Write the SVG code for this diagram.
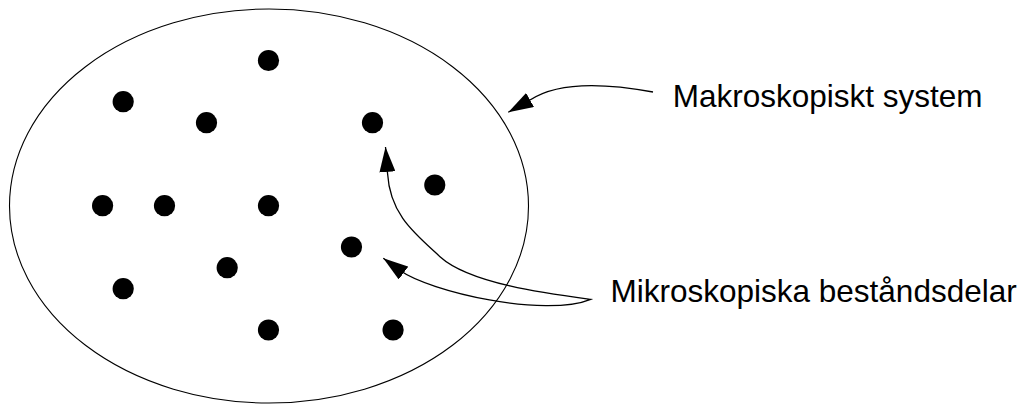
<svg xmlns="http://www.w3.org/2000/svg" width="1031" height="404" viewBox="0 0 1031 404">
<style>
.sys{fill:none;stroke:#000;stroke-width:1.1}
.dot{fill:#000}
.con{fill:none;stroke:#000;stroke-width:1.3}
.lbl{font-family:"Liberation Sans",Arial,sans-serif;font-size:31.5px;fill:#000}
</style>
<defs>
<marker id="ah" viewBox="0 0 25 16" refX="25" refY="8" markerWidth="25" markerHeight="16" markerUnits="userSpaceOnUse" orient="auto-start-reverse">
<path d="M0,0 L25,8 L0,16 z" fill="#000"/>
</marker>
</defs>
<rect width="1031" height="404" fill="#fff"/>
<g id="system">
<ellipse class="sys" cx="269" cy="206" rx="259.5" ry="197"/>
</g>
<g id="particles">
<circle class="dot" cx="268.5" cy="60.5" r="10.6"/>
<circle class="dot" cx="123.2" cy="101.7" r="10.6"/>
<circle class="dot" cx="206.5" cy="122.7" r="10.6"/>
<circle class="dot" cx="372.5" cy="122.7" r="10.6"/>
<circle class="dot" cx="434.8" cy="185" r="10.6"/>
<circle class="dot" cx="102.6" cy="205.7" r="10.6"/>
<circle class="dot" cx="164.5" cy="205.7" r="10.6"/>
<circle class="dot" cx="268.5" cy="205.7" r="10.6"/>
<circle class="dot" cx="351.5" cy="247" r="10.6"/>
<circle class="dot" cx="227.2" cy="267.7" r="10.6"/>
<circle class="dot" cx="123.2" cy="288.7" r="10.6"/>
<circle class="dot" cx="268.5" cy="330" r="10.6"/>
<circle class="dot" cx="393.1" cy="330" r="10.6"/>
</g>
<g id="label-macro">
<text class="lbl" x="672.7" y="107">Makroskopiskt system</text>
</g>
<g id="label-micro">
<text class="lbl" x="610.5" y="301.5">Mikroskopiska beståndsdelar</text>
</g>
<g id="connectors">
<path class="con" marker-end="url(#ah)" d="M653,92 C610,84 560,80 530,100 L508.3,112.3"/>
<path class="con" marker-start="url(#ah)" marker-end="url(#ah)" d="M383.3,258.3 L399.7,270.3 C430,292 545,318 590.7,299.3 C550,294 470,284 440,256.7 C415,233.7 390,215 387.5,173 L385.5,147"/>
</g>
</svg>
